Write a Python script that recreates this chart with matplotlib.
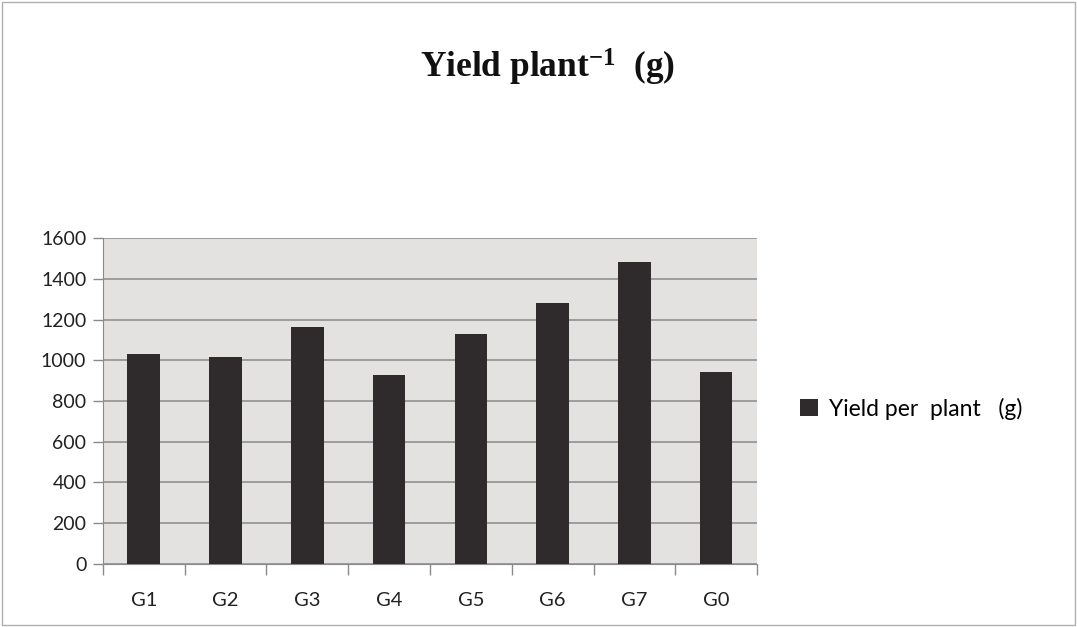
import matplotlib
matplotlib.use("Agg")
import matplotlib.pyplot as plt
from matplotlib.patches import Rectangle
import numpy as np

plt.rcParams["mathtext.fontset"] = "custom"
plt.rcParams["mathtext.rm"] = "Liberation Serif"
plt.rcParams["mathtext.bf"] = "Liberation Serif:bold"
plt.rcParams["mathtext.default"] = "bf"

categories = ["G1", "G2", "G3", "G4", "G5", "G6", "G7", "G0"]
values = [1032, 1015, 1163, 928, 1131, 1283, 1484, 942]
yticks = [0, 200, 400, 600, 800, 1000, 1200, 1400, 1600]
series_name = "Yield per  plant   (g)"

fig = plt.figure(figsize=(10.77, 6.27), dpi=100)
fig.patch.set_facecolor("white")
fig.patches.append(Rectangle((0.002, 0.003), 0.996, 0.994, transform=fig.transFigure,
                             fill=False, edgecolor="#b0b0b0", linewidth=1.0))

ax = fig.add_axes([0.0956, 0.1005, 0.6073, 0.5199])
ax.set_facecolor("#e4e1e1")
x = np.arange(len(categories))
bars = ax.bar(x, values, width=0.4, color="#2f2b2d", zorder=3, label=series_name)
ax.set_xlim(-0.5, len(categories) - 0.5)
ax.set_ylim(0, 1600)
ax.set_yticks(yticks)
ax.set_yticklabels([str(v) for v in yticks], fontsize=14, family="Lato", color="#222222")
ax.yaxis.grid(True, color="#8a8a8a", linewidth=1.1, zorder=1)
ax.set_axisbelow(True)

ax.set_xticks(np.arange(-0.5, len(categories), 1.0))
ax.set_xticklabels([])
ax.set_xticks(x, minor=True)
ax.set_xticklabels(categories, minor=True, fontsize=14.5, family="Lato", color="#222222")
ax.tick_params(axis="x", which="minor", length=0, pad=20)
ax.tick_params(axis="x", which="major", length=8, color="#8a8a8a", width=1)
ax.tick_params(axis="y", length=7, color="#8a8a8a", width=1, pad=5)

for s in ["top", "right"]:
    ax.spines[s].set_visible(False)
ax.spines["left"].set_color("#8a8a8a")
ax.spines["bottom"].set_color("#8a8a8a")

fig.text(0.508, 0.893, r"Yield plant$^{-1}$  (g)", ha="center", va="center",
         fontsize=25.5, fontweight="bold", family="Liberation Serif", color="#111111")

fig.legend(handles=[bars], labels=[series_name], loc="center left",
           bbox_to_anchor=(0.724, 0.348), frameon=False,
           prop={"family": "Lato", "size": 16.5}, handlelength=0.75, handleheight=0.75,
           handletextpad=0.5)

fig.savefig("out.png", dpi=100)
